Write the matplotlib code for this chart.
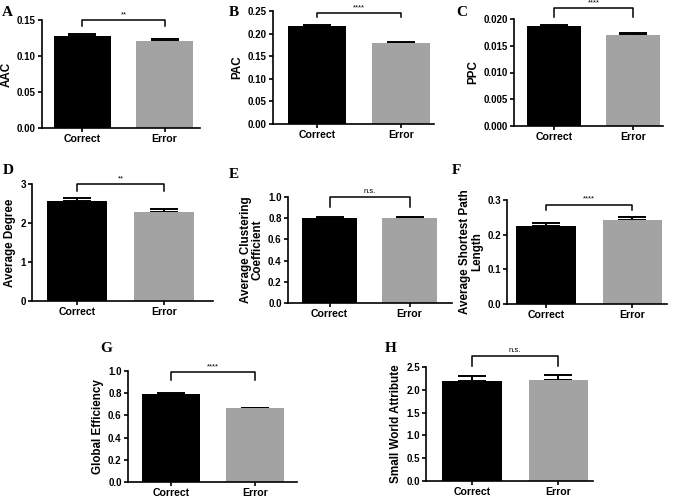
import matplotlib
matplotlib.use("Agg")
import matplotlib.pyplot as plt
import numpy as np

groups = ["Correct", "Error"]

# mean values and upper error (SEM)
aac = [0.128, 0.121]
aac_err = [0.003, 0.003]
pac = [0.217, 0.179]
pac_err = [0.003, 0.002]
ppc = [0.0186, 0.0170]
ppc_err = [0.0003, 0.0003]
degree = [2.57, 2.29]
degree_err = [0.07, 0.06]
clustering = [0.805, 0.805]
clustering_err = [0.005, 0.004]
pathlen = [0.226, 0.243]
pathlen_err = [0.007, 0.008]
glob_eff = [0.795, 0.665]
glob_eff_err = [0.007, 0.005]
small_world = [2.20, 2.21]
small_world_err = [0.11, 0.11]

labels = ["AAC", "PAC", "PPC", "Average Degree",
          "Average Clustering\nCoefficient", "Average Shortest Path\nLength",
          "Global Efficiency", "Small World Attribute"]
letters = list("ABCDEFGH")
signif = ["**", "****", "****", "**", "n.s.", "****", "****", "n.s."]
yticks = [
    [0.0, 0.05, 0.10, 0.15],
    [0.0, 0.05, 0.10, 0.15, 0.20, 0.25],
    [0.0, 0.005, 0.010, 0.015, 0.020],
    [0, 1, 2, 3],
    [0.0, 0.2, 0.4, 0.6, 0.8, 1.0],
    [0.0, 0.1, 0.2, 0.3],
    [0.0, 0.2, 0.4, 0.6, 0.8, 1.0],
    [0.0, 0.5, 1.0, 1.5, 2.0, 2.5],
]
tickfmt = ["%.2f", "%.2f", "%.3f", "%d", "%.1f", "%.1f", "%.1f", "%.1f"]
# bracket height and tick bottom for the significance marks
brackets = [(0.150, 0.141), (0.2456, 0.237), (0.0220, 0.0204), (2.99, 2.82),
            (1.0, 0.905), (0.286, 0.271), (0.99, 0.92), (2.74, 2.52)]

means = [aac, pac, ppc, degree, clustering, pathlen, glob_eff, small_world]
errs = [aac_err, pac_err, ppc_err, degree_err, clustering_err, pathlen_err,
        glob_eff_err, small_world_err]

W, H = 677, 500
# axes boxes in pixels: left, right, top, bottom ; x range ; letter position
boxes = [(42, 200, 20, 128), (273, 434, 11, 124), (514, 663, 19, 126),
         (32, 213, 184, 301), (288, 452, 197, 303), (507, 667, 200, 304),
         (128, 297, 371, 482), (426, 593, 367, 481)]
xlims = [(-0.49, 1.43), (-0.52, 1.39), (-0.51, 1.38), (-0.52, 1.56),
         (-0.52, 1.53), (-0.45, 1.40), (-0.51, 1.50), (-0.53, 1.40)]
letter_pos = [(2, 12), (229, 12), (456, 13), (3, 170), (229, 174),
              (452, 170), (100, 349), (385, 348)]

plt.rcParams["font.family"] = ["Liberation Sans", "DejaVu Sans"]
plt.rcParams["font.weight"] = "bold"

fig = plt.figure(figsize=(6.77, 5), dpi=100)

for i in range(8):
    l, r, t, b = boxes[i]
    ax = fig.add_axes([l / W, 1 - b / H, (r - l) / W, (b - t) / H])
    x = np.arange(2)
    ax.bar(x, means[i], width=0.69, color=["black", "#a3a3a3"], zorder=2)
    ax.errorbar(x, means[i], yerr=[[0, 0], errs[i]], fmt="none",
                ecolor="black", elinewidth=1.4, capsize=10, capthick=1.4,
                zorder=1)
    ax.set_xlim(*xlims[i])
    ax.set_ylim(yticks[i][0], yticks[i][-1])
    ax.set_yticks(yticks[i])
    ax.set_yticklabels([tickfmt[i] % v for v in yticks[i]])
    ax.set_xticks(x)
    ax.set_xticklabels(groups)
    ax.set_ylabel(labels[i], fontsize=8.4, fontweight="bold", labelpad=3,
                  linespacing=1.0)
    for s in ["top", "right"]:
        ax.spines[s].set_visible(False)
    for s in ["left", "bottom"]:
        ax.spines[s].set_linewidth(1.2)
    ax.tick_params(axis="y", labelsize=7, width=1.2, length=3, pad=1.5)
    ax.tick_params(axis="x", labelsize=7.6, width=1.2, length=3, pad=1.5)

    # significance bracket
    yb, yt = brackets[i]
    ax.plot([0, 0, 1, 1], [yt, yb, yb, yt], color="black", lw=1.1,
            clip_on=False)
    ax.annotate(signif[i], (0.5, yb), xytext=(0, 1.5),
                textcoords="offset points", ha="center", va="bottom",
                fontsize=5.5, fontweight="normal", annotation_clip=False)

    lx, ly = letter_pos[i]
    fig.text(lx / W, 1 - ly / H, letters[i], fontsize=11, fontweight="bold",
             family="Liberation Serif", va="center", ha="left")

fig.savefig("out.png", dpi=100)
